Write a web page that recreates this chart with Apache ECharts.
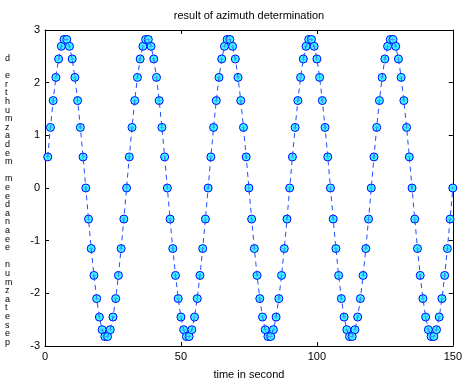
<!DOCTYPE html>
<html>
<head>
<meta charset="utf-8">
<script src="https://cdn.jsdelivr.net/npm/echarts@6/dist/echarts.min.js"></script>
<style>
  html, body { margin: 0; padding: 0; background: #fff; }
  #chart { width: 465px; height: 385px; }
</style>
</head>
<body>
<div id="chart"></div>
<script>
// azimuth estimates (rad), one second apart, read off the plot cycle by cycle (t = 1..150 s)
var cycle1 = [0.59, 1.15, 1.66, 2.10, 2.45, 2.69, 2.82, 2.82, 2.69, 2.45, 2.10, 1.66, 1.15, 0.59, 0,
  -0.59, -1.15, -1.66, -2.10, -2.45, -2.69, -2.82, -2.82, -2.69, -2.45, -2.10, -1.66, -1.15, -0.59, 0];
var cycle2 = [0.59, 1.15, 1.66, 2.10, 2.45, 2.69, 2.82, 2.82, 2.69, 2.45, 2.10, 1.66, 1.15, 0.59, 0,
  -0.59, -1.15, -1.66, -2.10, -2.45, -2.69, -2.82, -2.82, -2.69, -2.45, -2.10, -1.66, -1.15, -0.59, 0];
var cycle3 = [0.59, 1.15, 1.66, 2.10, 2.45, 2.69, 2.82, 2.82, 2.69, 2.45, 2.10, 1.66, 1.15, 0.59, 0,
  -0.59, -1.15, -1.66, -2.10, -2.45, -2.69, -2.82, -2.82, -2.69, -2.45, -2.10, -1.66, -1.15, -0.59, 0];
var cycle4 = [0.59, 1.15, 1.66, 2.10, 2.45, 2.69, 2.82, 2.82, 2.69, 2.45, 2.10, 1.66, 1.15, 0.59, 0,
  -0.59, -1.15, -1.66, -2.10, -2.45, -2.69, -2.82, -2.82, -2.69, -2.45, -2.10, -1.66, -1.15, -0.59, 0];
var cycle5 = [0.59, 1.15, 1.66, 2.10, 2.45, 2.69, 2.82, 2.82, 2.69, 2.45, 2.10, 1.66, 1.15, 0.59, 0,
  -0.59, -1.15, -1.66, -2.10, -2.45, -2.69, -2.82, -2.82, -2.69, -2.45, -2.10, -1.66, -1.15, -0.59, 0];
var firstSecond = 1;

var xTicks = [0, 50, 100, 150];
var yTicks = [-3, -2, -1, 0, 1, 2, 3];

var titleText = 'result of azimuth determination';
var xName = 'time in second';
// y label as it shows up in the picture: a column of small stacked glyphs
var yGlyphs = ['d', ' ', 'e', 'r', 't', 'h', 'u', 'm', 'z', 'a', 'd', 'e', 'm', ' ',
  'm', 'e', 'e', 'd', 'a', 'n', 'a', 'e', 'e', ' ', 'n', 'u', 'm', 'z', 'a', 't', 'e', 's', 'e', 'p'];

var azimuth = cycle1.concat(cycle2, cycle3, cycle4, cycle5);
var points = azimuth.map(function(v, i) { return [firstSecond + i, v]; });

var FONT = '"Liberation Sans", Arial, sans-serif';

function boxAxis(pos, ticks, showLabel) {
  return {
    type: 'value',
    position: pos,
    min: ticks[0],
    max: ticks[ticks.length - 1],
    interval: ticks[1] - ticks[0],
    axisLine: { show: true, onZero: false, lineStyle: { color: '#000', width: 1 } },
    axisTick: { show: true, inside: true, length: 4, lineStyle: { color: '#000' } },
    splitLine: { show: false },
    axisLabel: { show: showLabel, color: '#000', fontSize: 11, fontFamily: FONT, margin: 5 }
  };
}

var chart = echarts.init(document.getElementById('chart'));

var xBottom = boxAxis('bottom', xTicks, true);
xBottom.name = xName;
xBottom.nameLocation = 'middle';
xBottom.nameGap = 23;
xBottom.nameTextStyle = { color: '#000', fontSize: 11, fontFamily: FONT };

chart.setOption({
  animation: false,
  backgroundColor: '#fff',
  title: {
    text: titleText,
    left: 244,
    textAlign: 'center',
    top: 5,
    textStyle: { color: '#000', fontSize: 11, fontWeight: 'normal', fontFamily: FONT }
  },
  grid: { left: 45, right: 11, top: 30, bottom: 35 },
  xAxis: [xBottom, boxAxis('top', xTicks, false)],
  yAxis: [boxAxis('left', yTicks, true), boxAxis('right', yTicks, false)],
  graphic: [{
    type: 'text',
    left: 5,
    top: 54,
    style: {
      text: yGlyphs.join('\n'),
      fill: '#000',
      font: '9px ' + FONT,
      lineHeight: 8.6,
      align: 'center'
    }
  }],
  series: [
    {
      type: 'scatter',
      data: points,
      symbol: 'circle',
      symbolSize: 8,
      z: 2,
      itemStyle: { color: '#33ffff', borderColor: '#0000ff', borderWidth: 1, opacity: 1 }
    },
    {
      type: 'line',
      data: points,
      showSymbol: false,
      symbol: 'none',
      z: 3,
      lineStyle: { color: '#1f4fff', width: 1, type: [5, 4] }
    },
    {
      type: 'scatter',
      data: points,
      symbol: 'path://M5,0L5,10M0,5L10,5',
      symbolSize: 4,
      z: 4,
      itemStyle: { color: 'transparent', borderColor: '#5a8cff', borderWidth: 0.8, opacity: 1 }
    }
  ]
});
</script>
</body>
</html>
